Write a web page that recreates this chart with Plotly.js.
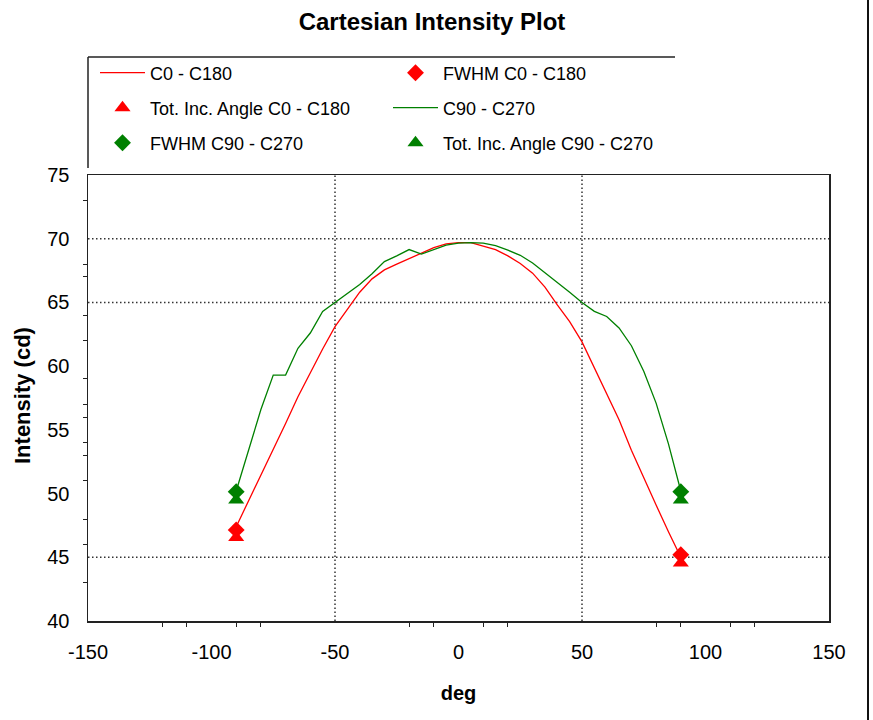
<!DOCTYPE html>
<html><head><meta charset="utf-8">
<script src="https://cdn.plot.ly/plotly-3.0.1.min.js"></script>
<style>html,body{margin:0;padding:0;background:#fff;} #chart{width:873px;height:720px;}</style>
</head><body><div id="chart"></div>
<script>
// ---- data ----
const angles = [-90,-85,-80,-75,-70,-65,-60,-55,-50,-45,-40,-35,-30,-25,-20,-15,-10,-5,0,5,10,15,20,25,30,35,40,45,50,55,60,65,70,75,80,85,90];
const c0_c180 = [47.4,49.4,51.5,53.5,55.5,57.6,59.5,61.35,63.1,64.45,65.8,66.85,67.55,68.0,68.45,68.9,69.3,69.6,69.7,69.7,69.45,69.15,68.65,68.05,67.3,66.2,64.8,63.5,61.9,59.9,57.9,55.8,53.4,51.2,49.1,47.0,45.0];
const c90_c270 = [50.2,53.5,56.6,59.3,59.3,61.4,62.6,64.3,65.0,65.7,66.4,67.25,68.2,68.65,69.15,68.8,69.15,69.5,69.65,69.7,69.65,69.45,69.1,68.7,68.1,67.35,66.6,65.8,65.0,64.3,63.9,63.0,61.6,59.6,57.1,53.9,50.2];
const markerAngles = [-90, 90];
const fwhmC0 = [47.15, 45.2];
const totC0 = [46.55, 44.55];
const fwhmC90 = [50.15, 50.15];
const totC90 = [49.5, 49.5];
const seriesNames = ['C0 - C180','FWHM C0 - C180','Tot. Inc. Angle C0 - C180','C90 - C270','FWHM C90 - C270','Tot. Inc. Angle C90 - C270'];
const xTickLabels = [-150,-100,-50,0,50,100,150];
const yTickLabels = [40,45,50,55,60,65,70,75];
const xLongTicks = [-150,-50,50,150];
const xShortTicks = [-120,-110,-90,-80,-20,-10,10,20,80,90,110,120];
const yLongTicks = [40,45,65,70,75];
const yShortTicks = [43,46,48,51,53,54,56,57,59,62,64,67,68,73];
const xGrid = [-50,50];
const yGrid = [45,65,70];
const titleText = 'Cartesian Intensity Plot';
const xTitle = 'deg';
const yTitle = 'Intensity (cd)';

// ---- styling ----
const RED = '#ff0000', GREEN = '#008000', AX = '#222', CLEAR = 'rgba(0,0,0,0)';
const FONT = 'Arial, "Liberation Sans", sans-serif';
const W = 873, H = 720;
const legendPos = [[95,73],[388,73],[95,108],[388,108],[95,143],[388,143]];

const traces = [
  {x: angles, y: c0_c180, name: seriesNames[0], mode:'lines', line:{color:RED, width:1.3}, legend:'legend'},
  {x: angles, y: c90_c270, name: seriesNames[3], mode:'lines', line:{color:GREEN, width:1.3}, legend:'legend4'},
  {x: markerAngles, y: totC0, name: seriesNames[2], mode:'markers', marker:{symbol:'triangle-up', size:14, color:RED}, legend:'legend3'},
  {x: markerAngles, y: fwhmC0, name: seriesNames[1], mode:'markers', marker:{symbol:'diamond', size:13, color:RED}, legend:'legend2'},
  {x: markerAngles, y: totC90, name: seriesNames[5], mode:'markers', marker:{symbol:'triangle-up', size:14, color:GREEN}, legend:'legend6'},
  {x: markerAngles, y: fwhmC90, name: seriesNames[4], mode:'markers', marker:{symbol:'diamond', size:13, color:GREEN}, legend:'legend5'}
];

const layout = {
  width: W, height: H,
  margin: {l:88, r:44, t:175, b:99, pad:0, autoexpand:false},
  paper_bgcolor:'#fff', plot_bgcolor:'#fff',
  font: {family: FONT, color:'#000'},
  title: {text:titleText, x: 432/W, xanchor:'center', xref:'container', y: 1-22/H, yanchor:'middle', yref:'container', font:{family:FONT, size:24, weight:700, color:'#000'}},
  xaxis: {range:[-150,150], tickmode:'array', tickvals:xTickLabels, ticktext:xTickLabels.map(String), ticks:'outside', ticklen:12, tickcolor:CLEAR,
          showline:true, linecolor:AX, linewidth:1.5, mirror:true,
          showgrid:false, zeroline:false, tickangle:0, tickfont:{family:FONT, size:20, color:'#000'},
          title:{text:xTitle, font:{family:FONT, size:20, weight:700, color:'#000'}, standoff:24},
          minor:{tickmode:'array', tickvals:xShortTicks, ticks:'outside', ticklen:4, tickcolor:AX, tickwidth:1, showgrid:false}},
  xaxis2: {range:[-150,150], overlaying:'x', anchor:'y', side:'bottom', tickmode:'array', tickvals:xLongTicks, ticks:'outside', ticklen:9, tickcolor:AX, tickwidth:1,
          showticklabels:false, showline:false, showgrid:false, zeroline:false,
          minor:{tickmode:'array', tickvals:xShortTicks, ticks:'inside', ticklen:4, tickcolor:AX, tickwidth:1, showgrid:false}},
  yaxis: {range:[40,75], tickmode:'array', tickvals:yTickLabels, ticktext:yTickLabels.map(String), ticks:'outside', ticklen:13, tickcolor:CLEAR,
          showline:true, linecolor:AX, linewidth:1.5, mirror:true,
          showgrid:false, zeroline:false, tickfont:{family:FONT, size:20, color:'#000'},
          minor:{tickmode:'array', tickvals:yShortTicks, ticks:'outside', ticklen:4, tickcolor:AX, tickwidth:1, showgrid:false}},
  yaxis2: {range:[40,75], overlaying:'y', anchor:'x', side:'left', tickmode:'array', tickvals:yLongTicks, ticks:'outside', ticklen:8, tickcolor:AX, tickwidth:1,
          showticklabels:false, showline:false, showgrid:false, zeroline:false,
          minor:{tickmode:'array', tickvals:yShortTicks, ticks:'inside', ticklen:4, tickcolor:AX, tickwidth:1, showgrid:false}},
  yaxis3: {range:[40,75], overlaying:'y', anchor:'x', side:'right', tickmode:'array', tickvals:yLongTicks, ticks:'inside', ticklen:8, tickcolor:AX, tickwidth:1,
          showticklabels:false, showline:false, showgrid:false, zeroline:false,
          minor:{tickmode:'array', tickvals:yShortTicks, ticks:'inside', ticklen:4, tickcolor:AX, tickwidth:1, showgrid:false}},
  annotations: [
    {text: yTitle, xref:'paper', yref:'paper', x: (22-88)/741, y: (621-396)/446, xanchor:'center', yanchor:'middle', textangle:-90, showarrow:false,
     font:{family:FONT, size:22, weight:700, color:'#000'}}
  ],
  shapes: [],
  showlegend: true
};

const legendNames = ['legend','legend2','legend3','legend4','legend5','legend6'];
legendNames.forEach((ln, i) => {
  layout[ln] = {x: legendPos[i][0]/W, y: 1 - legendPos[i][1]/H, xref:'container', yref:'container', xanchor:'left', yanchor:'middle',
    bgcolor:'rgba(0,0,0,0)', borderwidth:0, font:{family:FONT, size:18, color:'#000'}, itemwidth:45, itemclick:false, itemdoubleclick:false};
});

xGrid.forEach(v => layout.shapes.push({type:'line', xref:'x', yref:'paper', x0:v, x1:v, y0:0, y1:1, layer:'below', line:{color:'#333', width:1.5, dash:'1.5px,2.5px'}}));
yGrid.forEach(v => layout.shapes.push({type:'line', xref:'paper', yref:'y', x0:0, x1:1, y0:v, y1:v, layer:'below', line:{color:'#333', width:1.5, dash:'1.5px,2.5px'}}));
// legend frame (top and left edges) and right window border
layout.shapes.push({type:'line', xref:'paper', yref:'paper', xsizemode:'pixel', ysizemode:'pixel', xanchor:0, yanchor:1, x0:0, x1:587, y0:118, y1:118, line:{color:AX, width:1.5}});
layout.shapes.push({type:'line', xref:'paper', yref:'paper', xsizemode:'pixel', ysizemode:'pixel', xanchor:0, yanchor:1, x0:0, x1:0, y0:118, y1:7, line:{color:AX, width:1.5}});
layout.shapes.push({type:'line', xref:'paper', yref:'paper', xsizemode:'pixel', ysizemode:'pixel', xanchor:0, yanchor:0, x0:780, x1:780, y0:-99, y1:621, line:{color:'#111', width:2}});

Plotly.newPlot('chart', traces, layout, {displayModeBar:false, staticPlot:true});
</script></body></html>
